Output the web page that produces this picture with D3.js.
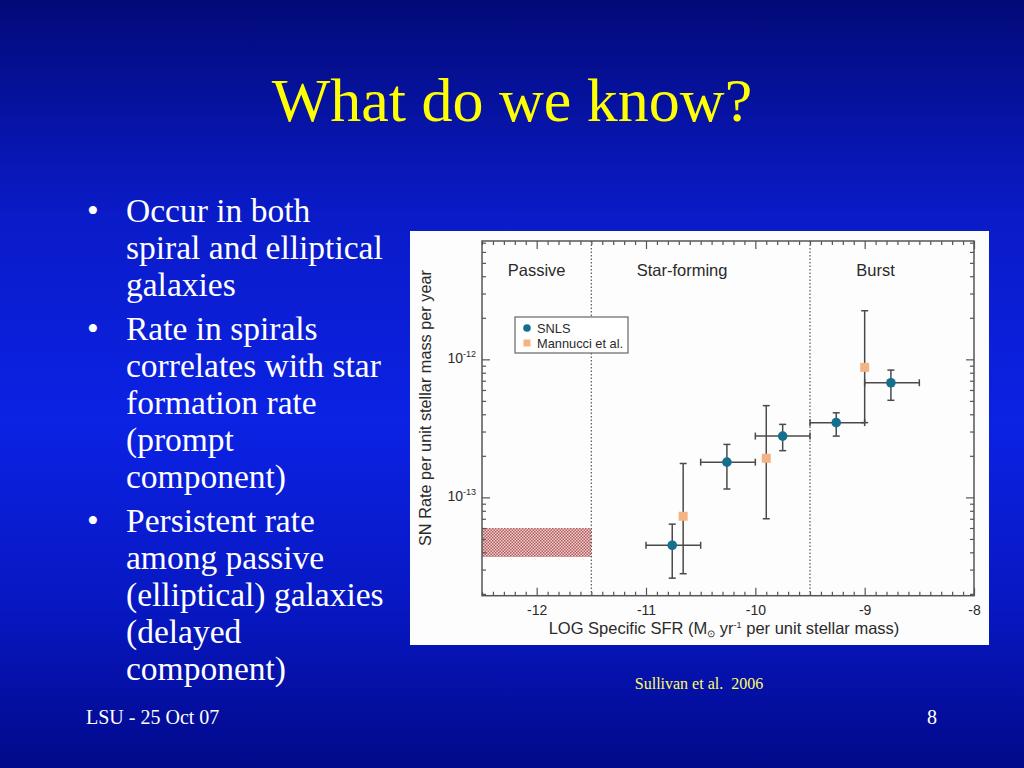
<!DOCTYPE html>
<html>
<head>
<meta charset="utf-8">
<script src="https://cdn.jsdelivr.net/npm/d3@7"></script>
<style>
  body { margin: 0; overflow: hidden; }
  svg { display: block; }
</style>
</head>
<body>
<div id="slide"></div>
<script>
// slide text
const title = "What do we know?";
const bullets = [
  ["Occur in both", "spiral and elliptical", "galaxies"],
  ["Rate in spirals", "correlates with star", "formation rate", "(prompt", "component)"],
  ["Persistent rate", "among passive", "(elliptical) galaxies", "(delayed", "component)"]
];
const citation = "Sullivan et al.  2006";
const footerLeft = "LSU - 25 Oct 07";
const footerRight = "8";

// SNLS points (log sSFR bins, rate per unit stellar mass per year)
const snlsX = [-10.76, -10.26, -9.75, -9.26, -8.76];
const snlsXLo = [-11.0, -10.5, -10.0, -9.5, -9.0];
const snlsXHi = [-10.5, -10.0, -9.5, -9.0, -8.5];
const snlsRate = [4.5e-14, 1.8e-13, 2.78e-13, 3.48e-13, 6.77e-13];
const snlsLo = [2.6e-14, 1.15e-13, 2.18e-13, 2.78e-13, 5.05e-13];
const snlsHi = [6.4e-14, 2.42e-13, 3.38e-13, 4.1e-13, 8.36e-13];

// Mannucci et al. points
const mannX = [-10.66, -9.9, -9.0];
const mannRate = [7.3e-14, 1.92e-13, 8.75e-13];
const mannLo = [2.8e-14, 7.0e-14, 3.48e-13];
const mannHi = [1.76e-13, 4.62e-13, 2.25e-12];

// passive galaxy band
const passiveX = [-12.5, -11.5];
const passiveRate = [3.7e-14, 6.0e-14];

// regions
const regionBounds = [-11.5, -9.5];
const regionNames = ["Passive", "Star-forming", "Burst"];
const regionLabelX = [-12.0, -10.67, -8.9];

// axes
const xDomain = [-12.5, -8];
const yDomain = [1.94e-14, 7.2e-12];
const xTicks = [-12, -11, -10, -9, -8];
const yTickExp = [-13, -12];
const legendNames = ["SNLS", "Mannucci et al."];

const W = 1024, H = 768;
const svg = d3.select('#slide').append('svg')
    .attr('width', W)
    .attr('height', H);

// background gradient
const defs = svg.append('defs');
const grad = defs.append('linearGradient')
    .attr('id', 'bg').attr('x1', 0).attr('y1', 0).attr('x2', 0).attr('y2', 1);
[[0, '#020a78'], [0.28, '#0a1bc8'], [0.55, '#0c22e4'], [0.8, '#0717c0'], [1, '#02098a']]
    .forEach(s => grad.append('stop').attr('offset', s[0]).attr('stop-color', s[1]));

const hatch = defs.append('pattern')
    .attr('id', 'hatch').attr('patternUnits', 'userSpaceOnUse')
    .attr('width', 3).attr('height', 3);
hatch.append('rect').attr('width', 3).attr('height', 3).attr('fill', '#efd2d2');
hatch.append('rect').attr('width', 1.5).attr('height', 1.5).attr('fill', '#b4585a');
hatch.append('rect').attr('x', 1.5).attr('y', 1.5).attr('width', 1.5).attr('height', 1.5).attr('fill', '#b4585a');

svg.append('rect').attr('width', W).attr('height', H).attr('fill', 'url(#bg)');

// title
const serif = '"Liberation Serif", "Times New Roman", serif';
svg.append('text')
    .attr('x', 512).attr('y', 121)
    .attr('text-anchor', 'middle')
    .style('font-family', serif)
    .style('font-size', '62px')
    .style('fill', '#ffff00')
    .text(title);

// bullets
let yb = 222;
bullets.forEach((lines, i) => {
    if (i > 0) yb += 7;
    svg.append('text')
        .attr('x', 87).attr('y', yb)
        .style('font-family', serif).style('font-size', '33.5px').style('fill', '#fff')
        .text('\u2022');
    lines.forEach(l => {
        svg.append('text')
            .attr('x', 126).attr('y', yb)
            .style('font-family', serif).style('font-size', '33.5px').style('fill', '#fff')
            .text(l);
        yb += 37;
    });
});

// footer
svg.append('text').attr('x', 86).attr('y', 724)
    .style('font-family', serif).style('font-size', '20px').style('fill', '#fff')
    .text(footerLeft);
svg.append('text').attr('x', 937).attr('y', 724).attr('text-anchor', 'end')
    .style('font-family', serif).style('font-size', '20px').style('fill', '#fff')
    .text(footerRight);
svg.append('text').attr('x', 699).attr('y', 689).attr('text-anchor', 'middle')
    .attr('xml:space', 'preserve').style('white-space', 'pre')
    .style('font-family', serif).style('font-size', '16px').style('fill', '#ffff66')
    .text(citation);

// chart image panel
svg.append('rect')
    .attr('x', 410).attr('y', 231).attr('width', 579).attr('height', 414)
    .attr('fill', '#fdfdfd');

const sans = '"Liberation Sans", Arial, Helvetica, sans-serif';
const ink = '#2a2a2a';
const pLeft = 482, pRight = 974, pTop = 241, pBottom = 595.7;

const x = d3.scaleLinear().domain(xDomain).range([pLeft, pRight]);
const y = d3.scaleLog().domain(yDomain).range([pBottom, pTop]);

const g = svg.append('g');

// passive band
g.append('rect')
    .attr('x', x(passiveX[0]))
    .attr('y', y(passiveRate[1]))
    .attr('width', x(passiveX[1]) - x(passiveX[0]))
    .attr('height', y(passiveRate[0]) - y(passiveRate[1]))
    .attr('fill', 'url(#hatch)');

// region boundaries
g.selectAll('.bound')
    .data(regionBounds)
    .enter().append('line')
    .attr('class', 'bound')
    .attr('x1', d => x(d)).attr('x2', d => x(d))
    .attr('y1', pTop).attr('y2', pBottom)
    .style('stroke', '#555')
    .style('stroke-width', 1.2)
    .style('stroke-dasharray', '1.5,2');

g.selectAll('.region')
    .data(regionNames)
    .enter().append('text')
    .attr('class', 'region')
    .attr('x', (d, i) => x(regionLabelX[i]))
    .attr('y', 276)
    .attr('text-anchor', 'middle')
    .style('font-family', sans).style('font-size', '16.5px').style('fill', ink)
    .text(d => d);

// minor ticks
const xMinor = d3.range(-125, -79).map(v => v / 10).filter(v => Math.abs(v - Math.round(v)) > 1e-6);
const yMinor = [];
[-14, -13, -12].forEach(e => {
    for (let k = 2; k <= 9; k++) {
        const v = k * Math.pow(10, e);
        if (v > yDomain[0] && v < yDomain[1]) yMinor.push(v);
    }
});
const yMajor = yTickExp.map(e => Math.pow(10, e));

const axStyle = sel => {
    sel.select('.domain').remove();
    sel.selectAll('line').style('stroke', '#555').style('stroke-width', 1.2);
};

g.append('g').attr('transform', `translate(0,${pBottom})`)
    .call(d3.axisBottom(x).tickValues(xMinor).tickSize(-4).tickFormat(''))
    .call(axStyle);
g.append('g').attr('transform', `translate(0,${pTop})`)
    .call(d3.axisTop(x).tickValues(xMinor).tickSize(-4).tickFormat(''))
    .call(axStyle);
g.append('g').attr('transform', `translate(0,${pTop})`)
    .call(d3.axisTop(x).tickValues(xTicks).tickSize(-8).tickFormat(''))
    .call(axStyle);

const xAx = g.append('g').attr('transform', `translate(0,${pBottom})`)
    .call(d3.axisBottom(x).tickValues(xTicks).tickSize(-8).tickPadding(9).tickFormat(d3.format('d')))
    .call(axStyle);
xAx.selectAll('text')
    .style('font-family', sans).style('font-size', '14px').style('fill', ink)
    .text(d => '-' + Math.abs(d));

g.append('g').attr('transform', `translate(${pLeft},0)`)
    .call(d3.axisLeft(y).tickValues(yMinor).tickSize(-4).tickFormat(''))
    .call(axStyle);
g.append('g').attr('transform', `translate(${pRight},0)`)
    .call(d3.axisRight(y).tickValues(yMinor).tickSize(-4).tickFormat(''))
    .call(axStyle);
g.append('g').attr('transform', `translate(${pRight},0)`)
    .call(d3.axisRight(y).tickValues(yMajor).tickSize(-8).tickFormat(''))
    .call(axStyle);

const yAx = g.append('g').attr('transform', `translate(${pLeft},0)`)
    .call(d3.axisLeft(y).tickValues(yMajor).tickSize(-8).tickPadding(6).tickFormat(''))
    .call(axStyle);
yAx.selectAll('.tick text').each(function (d) {
    const t = d3.select(this)
        .attr('dy', '0.35em')
        .style('font-family', sans).style('fill', ink);
    t.append('tspan').style('font-size', '14px').text('10');
    t.append('tspan').attr('dy', '-6').style('font-size', '9px').text(Math.round(Math.log10(d)));
});

// frame
g.append('rect')
    .attr('x', pLeft).attr('y', pTop)
    .attr('width', pRight - pLeft).attr('height', pBottom - pTop)
    .attr('fill', 'none')
    .style('stroke', '#555').style('stroke-width', 1.5);

// axis titles
const xt = g.append('text')
    .attr('x', 724).attr('y', 634)
    .attr('text-anchor', 'middle')
    .style('font-family', sans).style('font-size', '16.5px').style('fill', ink);
xt.append('tspan').text('LOG Specific SFR (M');
xt.append('tspan').attr('dy', 3).style('font-size', '10px').text('\u2299');
xt.append('tspan').attr('dy', -3).text(' yr');
xt.append('tspan').attr('dy', -6).style('font-size', '9px').text('-1');
xt.append('tspan').attr('dy', 6).text(' per unit stellar mass)');

g.append('text')
    .attr('transform', 'translate(431,408) rotate(-90)')
    .attr('text-anchor', 'middle')
    .style('font-family', sans).style('font-size', '16.3px').style('fill', ink)
    .text('SN Rate per unit stellar mass per year');

// error bars
const errColor = '#4a4a4a';
const cap = 3.5;
const snls = snlsX.map((v, i) => ({ x: v, xl: snlsXLo[i], xh: snlsXHi[i], y: snlsRate[i], yl: snlsLo[i], yh: snlsHi[i] }));
const mann = mannX.map((v, i) => ({ x: v, y: mannRate[i], yl: mannLo[i], yh: mannHi[i] }));

function vErr(sel, data, cls) {
    const e = sel.selectAll('.' + cls).data(data).enter().append('g').attr('class', cls)
        .style('stroke', errColor).style('stroke-width', 1.5);
    e.append('line')
        .attr('x1', d => x(d.x)).attr('x2', d => x(d.x))
        .attr('y1', d => y(d.yl)).attr('y2', d => y(d.yh));
    e.append('line')
        .attr('x1', d => x(d.x) - cap).attr('x2', d => x(d.x) + cap)
        .attr('y1', d => y(d.yl)).attr('y2', d => y(d.yl));
    e.append('line')
        .attr('x1', d => x(d.x) - cap).attr('x2', d => x(d.x) + cap)
        .attr('y1', d => y(d.yh)).attr('y2', d => y(d.yh));
}
vErr(g, mann, 'merr');
vErr(g, snls, 'serr');

const he = g.selectAll('.herr').data(snls).enter().append('g').attr('class', 'herr')
    .style('stroke', errColor).style('stroke-width', 1.5);
he.append('line')
    .attr('x1', d => x(d.xl)).attr('x2', d => x(d.xh))
    .attr('y1', d => y(d.y)).attr('y2', d => y(d.y));
he.append('line')
    .attr('x1', d => x(d.xl)).attr('x2', d => x(d.xl))
    .attr('y1', d => y(d.y) - cap).attr('y2', d => y(d.y) + cap);
he.append('line')
    .attr('x1', d => x(d.xh)).attr('x2', d => x(d.xh))
    .attr('y1', d => y(d.y) - cap).attr('y2', d => y(d.y) + cap);

// markers
g.selectAll('.mann').data(mann).enter().append('rect')
    .attr('class', 'mann')
    .attr('x', d => x(d.x) - 4.5).attr('y', d => y(d.y) - 4.5)
    .attr('width', 9).attr('height', 9)
    .style('fill', '#f4b383');

g.selectAll('.snls').data(snls).enter().append('circle')
    .attr('class', 'snls')
    .attr('cx', d => x(d.x)).attr('cy', d => y(d.y))
    .attr('r', 4.8)
    .style('fill', '#15708f');

// legend
const lg = g.append('g');
lg.append('rect')
    .attr('x', 515).attr('y', 317).attr('width', 113).attr('height', 36)
    .attr('fill', '#fff').style('stroke', '#666').style('stroke-width', 1.2);
lg.append('circle').attr('cx', 527).attr('cy', 328).attr('r', 3.8).style('fill', '#15708f');
lg.append('rect').attr('x', 523.5).attr('y', 339.5).attr('width', 7).attr('height', 7).style('fill', '#f4b383');
lg.selectAll('.lt').data(legendNames).enter().append('text')
    .attr('class', 'lt')
    .attr('x', 537).attr('y', (d, i) => 332.5 + i * 15)
    .style('font-family', sans).style('font-size', '12.8px').style('fill', ink)
    .text(d => d);
</script>
</body>
</html>
